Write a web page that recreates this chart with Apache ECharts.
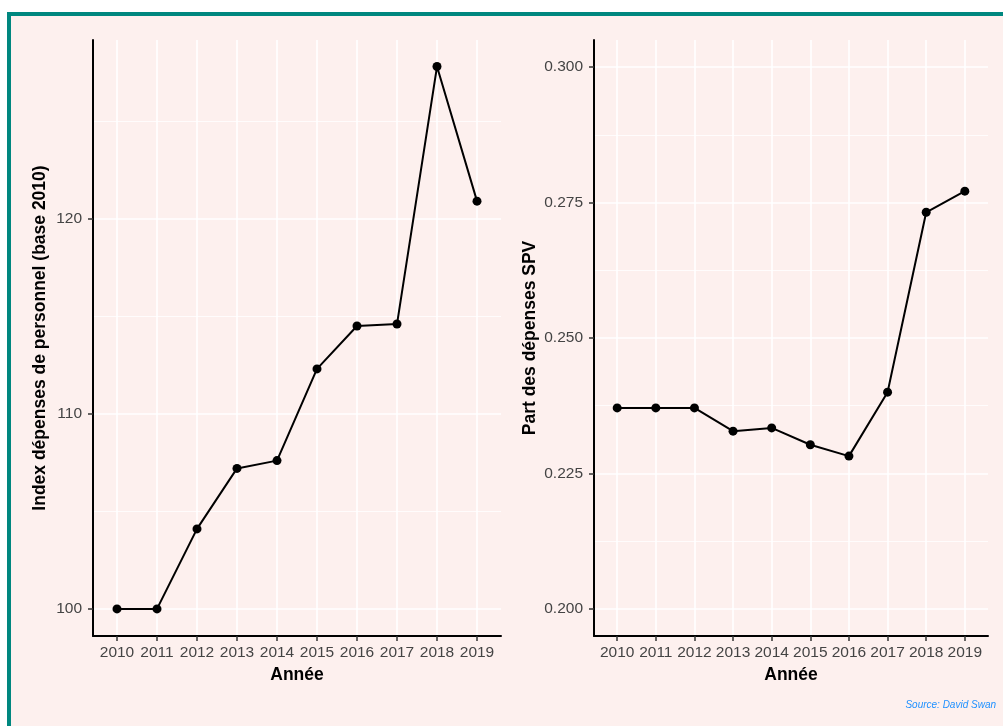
<!DOCTYPE html>
<html>
<head>
<meta charset="utf-8">
<script src="https://cdn.jsdelivr.net/npm/echarts@6/dist/echarts.min.js"></script>
<style>
  body { margin: 0; background: #ffffff; }
  #frame {
    position: absolute; left: 7px; top: 12px; right: 0; bottom: 0;
    border-top: 4px solid #00877f; border-left: 4px solid #00877f;
    background: #fdf0ee;
  }
  #chart { position: absolute; left: 0; top: 0; width: 1003px; height: 726px; }
</style>
</head>
<body>
<div id="frame"></div>
<div id="chart"></div>
<script>
// data
var years = [2010, 2011, 2012, 2013, 2014, 2015, 2016, 2017, 2018, 2019];
var indexDepenses = [100, 100, 104.1, 107.2, 107.6, 112.3, 114.5, 114.6, 127.8, 120.9];
var partSPV = [0.2371, 0.2371, 0.2371, 0.2328, 0.2334, 0.2303, 0.2282, 0.2400, 0.2732, 0.2771];
var leftTicks = [100, 110, 120];
var leftMinor = [105, 115, 125];
var rightTicks = [0.200, 0.225, 0.250, 0.275, 0.300];
var rightMinor = [0.2125, 0.2375, 0.2625, 0.2875];

var font = '"Liberation Sans", Arial, sans-serif';

function pairs(vals) {
  return years.map(function (y, i) { return [y, vals[i]]; });
}

function xAxisFor(gridIndex) {
  return {
    type: "value",
    gridIndex: gridIndex,
    min: 2009.4,
    max: 2019.6,
    name: "Année",
    nameLocation: "middle",
    nameGap: 30,
    nameTextStyle: { fontFamily: font, fontSize: 17.5, fontWeight: "bold", color: "#000" },
    axisLine: { onZero: false, lineStyle: { color: "#000", width: 2 } },
    axisTick: { show: true, customValues: years, length: 5, lineStyle: { color: "#333", width: 1.5 } },
    axisLabel: {
      customValues: years, margin: 9, color: "#444", fontFamily: font, fontSize: 15.5,
      formatter: function (v) { return String(v); }
    },
    splitLine: { show: true, lineStyle: { color: "#ffffff", width: 1.6 } }
  };
}

function yAxisFor(gridIndex, min, max, ticks, name, gap, fmt) {
  return {
    type: "value",
    gridIndex: gridIndex,
    min: min,
    max: max,
    name: name,
    nameLocation: "middle",
    nameGap: gap,
    nameTextStyle: { fontFamily: font, fontSize: 17.5, fontWeight: "bold", color: "#000" },
    axisLine: { show: true, onZero: false, lineStyle: { color: "#000", width: 2 } },
    axisTick: { show: true, customValues: ticks, length: 5, lineStyle: { color: "#333", width: 1.5 } },
    axisLabel: { customValues: ticks, margin: 11, color: "#444", fontFamily: font, fontSize: 15.5, formatter: fmt },
    splitLine: { show: true, lineStyle: { color: "#ffffff", width: 1.6 } }
  };
}

function minorAxisFor(gridIndex, min, max, ticks) {
  return {
    type: "value",
    gridIndex: gridIndex,
    min: min,
    max: max,
    axisLine: { show: false },
    axisTick: { show: false, customValues: ticks },
    axisLabel: { show: false, customValues: ticks },
    splitLine: { show: true, lineStyle: { color: "#ffffff", width: 0.8 } }
  };
}

var chart = echarts.init(document.getElementById("chart"));
chart.setOption({
  backgroundColor: "transparent",
  animation: false,
  grid: [
    { left: 93, right: 502, top: 40, bottom: 90 },
    { left: 594, right: 15, top: 40, bottom: 90 }
  ],
  xAxis: [xAxisFor(0), xAxisFor(1)],
  yAxis: [
    yAxisFor(0, 98.61, 129.16, leftTicks, "Index dépenses de personnel (base 2010)", 44,
      function (v) { return String(v); }),
    minorAxisFor(0, 98.61, 129.16, leftMinor),
    yAxisFor(1, 0.195, 0.305, rightTicks, "Part des dépenses SPV", 55,
      function (v) { return v.toFixed(3); }),
    minorAxisFor(1, 0.195, 0.305, rightMinor)
  ],
  graphic: [
    {
      type: "text", right: 7, top: 700,
      style: { text: "Source: David Swan", fill: "#1e90ff", font: "italic 10px " + font }
    }
  ],
  series: [
    {
      type: "line", xAxisIndex: 0, yAxisIndex: 0, data: pairs(indexDepenses),
      symbol: "circle", symbolSize: 9, z: 5,
      lineStyle: { color: "#000", width: 2 }, itemStyle: { color: "#000" }
    },
    {
      type: "line", xAxisIndex: 1, yAxisIndex: 2, data: pairs(partSPV),
      symbol: "circle", symbolSize: 9, z: 5,
      lineStyle: { color: "#000", width: 2 }, itemStyle: { color: "#000" }
    }
  ]
});
</script>
</body>
</html>
